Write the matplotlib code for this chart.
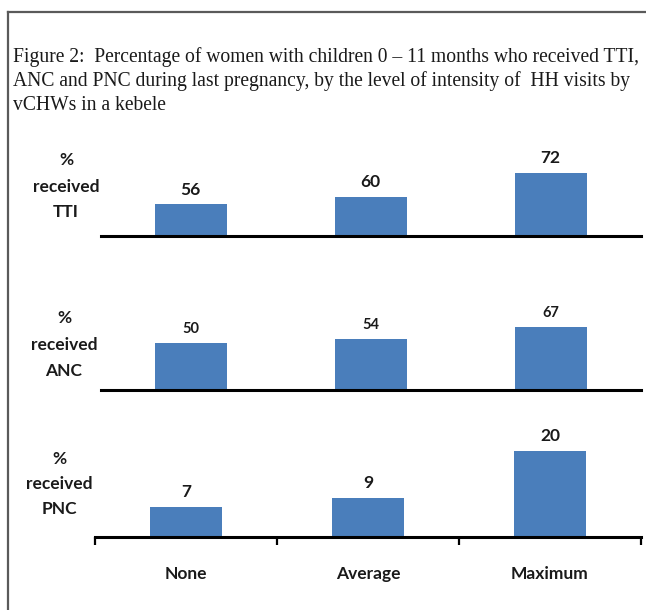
import matplotlib
matplotlib.use("Agg")
import matplotlib.pyplot as plt
from matplotlib.lines import Line2D

# Data
categories = ["None", "Average", "Maximum"]
tti_values = [56, 60, 72]
anc_values = [50, 54, 67]
pnc_values = [7, 9, 20]
row_labels = [["%", "received", "TTI"], ["%", "received", "ANC"], ["%", "received", "PNC"]]
title_lines = [
    "Figure 2:  Percentage of women with children 0 \u2013 11 months who received TTI,",
    "ANC and PNC during last pregnancy, by the level of intensity of  HH visits by",
    "vCHWs in a kebele",
]

W, H = 646, 610
DPI = 100
fig = plt.figure(figsize=(W / DPI, H / DPI), dpi=DPI)
fig.patch.set_facecolor("white")

BAR = "#4a7ebb"
SANS = ["Lato", "DejaVu Sans"]
SERIF = ["Liberation Serif", "DejaVu Serif"]


def px_axes(left, right, bottom, top):
    return fig.add_axes([left / W, 1 - bottom / H, (right - left) / W, (bottom - top) / H])


# Frame around the figure block (left and top edges)
fig.add_artist(Line2D([8 / W, 8 / W], [0, 1 - 12 / H], transform=fig.transFigure,
                      color="#5a5a5a", lw=1.6))
fig.add_artist(Line2D([8 / W, 1], [1 - 12 / H, 1 - 12 / H], transform=fig.transFigure,
                      color="#5a5a5a", lw=1.6))

# Title
for i, line in enumerate(title_lines):
    fig.text(13 / W, 1 - (57 + 24 * i) / H, line, ha="left", va="center",
             fontsize=14.1, family=SERIF, color="#1a1a1a")

# Panel specs: values, pixel box (left, right, baseline), y-range, px per unit, label size
panels = [
    (tti_values, (100.5, 640.5, 235.5), (40, 40 + 87 / 1.94), 1.94, 12.5),
    (anc_values, (100.5, 640.5, 390), (0, 76 / 0.94), 0.94, 10.5),
    (pnc_values, (95, 641, 537), (0, 95 / 4.3), 4.3, 12.5),
]
label_pos = [
    (66, [160, 187, 212]),
    (64, [318, 345, 371]),
    (59, [459, 484, 509]),
]

x = list(range(len(categories)))
for k, (vals, (l, r, b), (y0, y1), scale, vsize) in enumerate(panels):
    top = b - (y1 - y0) * scale
    ax = px_axes(l, r, b, top)
    bars = ax.bar(x, vals, width=0.4, color=BAR)
    ax.set_xlim(-0.5, 2.5)
    ax.set_ylim(y0, y1)
    for s in ("top", "right", "left"):
        ax.spines[s].set_visible(False)
    ax.spines["bottom"].set_linewidth(2.2)
    ax.spines["bottom"].set_color("black")
    ax.set_yticks([])
    ax.bar_label(bars, labels=[str(v) for v in vals], padding=5,
                 fontsize=vsize, fontweight="bold", family=SANS, color="#1a1a1a")
    if k == 2:
        ax.set_xticks(x)
        ax.set_xticklabels(categories, fontsize=12.5, fontweight="bold", family=SANS,
                           color="#1a1a1a")
        ax.tick_params(axis="x", which="major", length=0, pad=21)
        ax.set_xticks([-0.5, 0.5, 1.5, 2.5], minor=True)
        ax.tick_params(axis="x", which="minor", length=6, width=1.6, direction="out",
                       color="black")
    else:
        ax.set_xticks([])
    cx, ys = label_pos[k]
    for txt, yy in zip(row_labels[k], ys):
        fig.text(cx / W, 1 - yy / H, txt, ha="center", va="center", fontsize=12.5,
                 fontweight="bold", family=SANS, color="#1a1a1a")

fig.savefig("out.png", dpi=DPI, facecolor="white")
